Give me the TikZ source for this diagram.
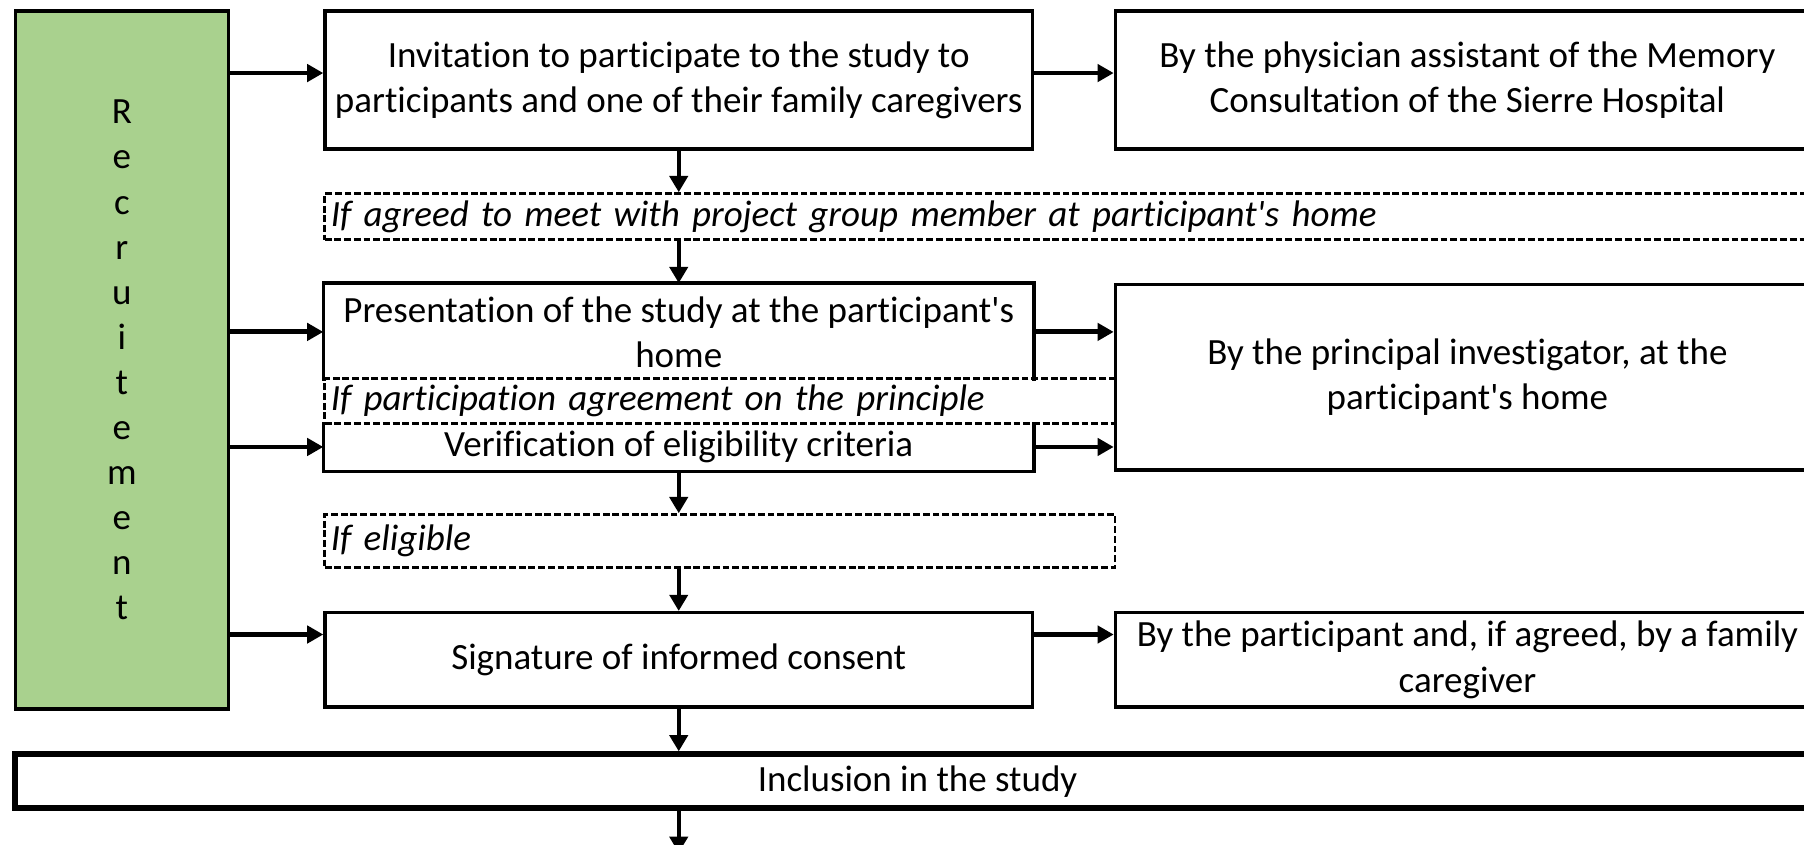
\documentclass[tikz,border=0pt]{standalone}
\usepackage{fontspec}
\setmainfont{Carlito}[Ligatures={TeX,NoCommon}]
\usetikzlibrary{arrows.meta}

\definecolor{recgreen}{HTML}{A9D18E}

\begin{document}
\begin{tikzpicture}[x=0.02cm, y=-0.02cm,
    font=\fontsize{18.3}{22.3}\selectfont,
    box/.style={draw, line width=1.7pt, inner sep=0pt, align=center, anchor=north west},
    openbox/.style={box, draw=none},
    side/.style={line width=1.7pt},
    cond/.style={draw, line width=1.4pt, dash pattern=on 3.4pt off 1.4pt,
        inner xsep=3pt, inner ysep=0pt, align=left, anchor=north west,
        font=\fontsize{18.3}{22.3}\selectfont\itshape},
    harr/.style={-{Triangle[length=8pt,width=8.5pt]}, line width=2.4pt},
    varr/.style={-{Triangle[length=8pt,width=9pt]}, line width=1.8pt}]

    \useasboundingbox (0,0) rectangle (1568,734);

    % Recruitement column
    \node[box, fill=recgreen, minimum width=3.7cm, minimum height=12.14cm] (rec) at (12,8)
        {R\\e\\c\\r\\u\\i\\t\\e\\m\\e\\n\\t};

    % Invitation
    \node[box, minimum width=12.3cm, minimum height=2.4cm] (inv) at (281,8)
        {Invitation to participate to the study to\\participants and one of their family caregivers};
    \node[box, minimum width=12.24cm, minimum height=2.4cm] (phys) at (968,8)
        {By the physician assistant of the Memory\\Consultation of the Sierre Hospital};

    % First condition
    \node[cond, text width=25.77cm, minimum height=0.8cm] (agree) at (281,167)
        {If agreed to meet with project group member at participant\textquotesingle s home};

    % Presentation, condition and verification block
    \node[openbox, minimum width=12.3cm, minimum height=1.64cm] (pres) at (281,246)
        {Presentation of the study at the participant\textquotesingle s\\home};
    \node[openbox, minimum width=12.3cm, minimum height=0.8cm] (veri) at (281,367)
        {Verification of eligibility criteria};
    \draw[side] (pres.south west) -- (pres.north west) -- (pres.north east) -- (pres.south east);
    \draw[side] (veri.north west) -- (veri.south west) -- (veri.south east) -- (veri.north east);
    \node[cond, text width=13.53cm, minimum height=0.78cm] (princ_ok) at (281,328)
        {If participation agreement on the principle};
    \node[box, minimum width=12.24cm, minimum height=3.22cm] (princ) at (968,246)
        {By the principal investigator, at the\\participant\textquotesingle s home};

    % Eligibility condition
    \node[cond, text width=13.53cm, minimum height=0.92cm] (elig) at (281,446)
        {If eligible};

    % Signature
    \node[box, minimum width=12.3cm, minimum height=1.64cm] (sign) at (281,531)
        {Signature of informed consent};
    \node[box, minimum width=12.24cm, minimum height=1.64cm] (part) at (968,531)
        {By the participant and, if agreed, by a family\\caregiver};

    % Inclusion
    \node[box, line width=3pt, minimum width=31.4cm, minimum height=0.94cm] (incl) at (10,653)
        {Inclusion in the study};
    \coordinate (exit) at ([yshift=-0.72cm]incl.south -| sign.south);

    % Arrows from the recruitement column
    \draw[harr] ([yshift=0.12cm]rec.east |- inv.west) -- ([yshift=0.12cm]inv.west);
    \draw[harr] (rec.east |- pres.west) -- (pres.west);
    \draw[harr] (rec.east |- veri.west) -- (veri.west);
    \draw[harr] ([yshift=0.44cm]rec.east |- sign.west) -- ([yshift=0.44cm]sign.west);

    % Arrows to the right column
    \draw[harr] ([yshift=0.12cm]inv.east) -- ([yshift=0.12cm]phys.west);
    \draw[harr] (pres.east) -- (pres.east -| princ.west);
    \draw[harr] (veri.east) -- (veri.east -| princ.west);
    \draw[harr] ([yshift=0.44cm]sign.east) -- ([yshift=0.44cm]part.west);

    % Main flow
    \draw[varr] (inv.south) -- (inv.south |- agree.north);
    \draw[varr] (inv.south |- agree.south) -- (pres.north);
    \draw[varr] (veri.south) -- (veri.south |- elig.north);
    \draw[varr] (veri.south |- elig.south) -- (sign.north);
    \draw[varr] (sign.south) -- (sign.south |- incl.north);
    \draw[varr] (sign.south |- incl.south) -- (exit);
\end{tikzpicture}
\end{document}
